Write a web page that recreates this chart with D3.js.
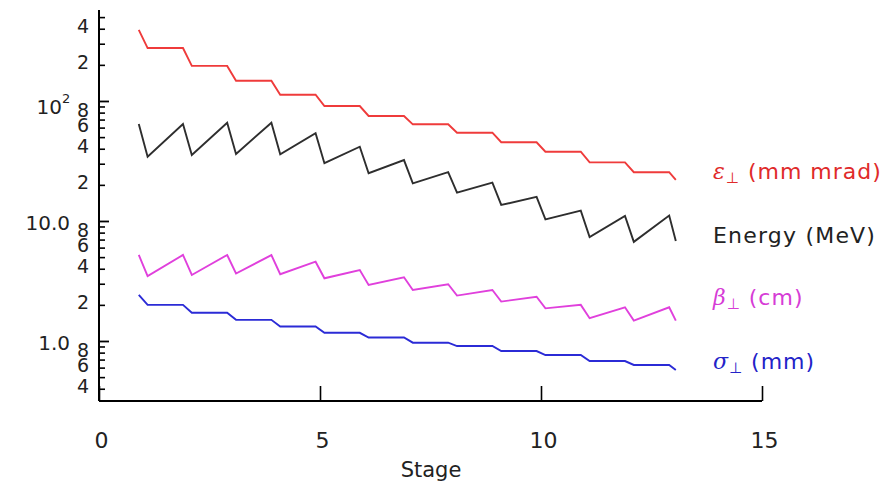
<!DOCTYPE html>
<html>
<head>
<meta charset="utf-8">
<script src="https://cdn.jsdelivr.net/npm/d3@7"></script>
<style>
  html, body { margin: 0; padding: 0; background: #fff; }
  svg text { font-family: "DejaVu Sans", sans-serif; }
</style>
</head>
<body>
<svg id="chart" width="891" height="488"></svg>
<script>
// ---- Data ----
const stages = [0.9, 1.1, 1.9, 2.1, 2.9, 3.1, 3.9, 4.1, 4.9, 5.1, 5.9, 6.1, 6.9,
                7.1, 7.9, 8.1, 8.9, 9.1, 9.9, 10.1, 10.9, 11.1, 11.9, 12.1, 12.9, 13.05];

const emittance = [391, 276, 276, 196, 196, 147.6, 147.6, 112.8, 112.8, 90.8, 90.8, 75, 75,
                   63.9, 63.9, 54.4, 54.4, 45.3, 45.3, 37.8, 37.8, 30.8, 30.8, 25.5, 25.5, 22.0];

const energy = [64.3, 34.3, 64.3, 35.5, 65.9, 36.2, 65.9, 36.0, 53.8, 30.3, 41.6, 25.0, 32.2,
                20.6, 25.5, 17.2, 20.9, 13.6, 15.9, 10.3, 12.2, 7.35, 11.0, 6.7, 11.1, 6.8];

const beta = [5.21, 3.48, 5.21, 3.55, 5.21, 3.65, 5.2, 3.6, 4.58, 3.33, 3.9, 2.93, 3.4,
              2.66, 2.97, 2.39, 2.66, 2.13, 2.34, 1.87, 2.0, 1.55, 1.91, 1.48, 1.91, 1.48];

const sigma = [2.42, 2.0, 2.0, 1.72, 1.72, 1.50, 1.50, 1.32, 1.32, 1.17, 1.17, 1.07, 1.07,
               0.968, 0.968, 0.908, 0.908, 0.825, 0.825, 0.764, 0.764, 0.681, 0.681, 0.631, 0.631, 0.573];

const seriesNames = ["emittance", "energy", "beta", "sigma"];

const xTicks = [0, 5, 10, 15];
const xTickLabels = ["0", "5", "10", "15"];

const yMajorTicks = [1, 10, 100];
const yMajorLabels = ["1.0", "10.0", "10"];   // 100 drawn as 10 with superscript 2
const yMinorTicks = [0.4, 0.5, 0.6, 0.7, 0.8, 0.9, 2, 3, 4, 5, 6, 7, 8, 9,
                     20, 30, 40, 50, 60, 70, 80, 90, 200, 300, 400, 500];
const yMinorLabeled = [0.4, 0.6, 0.8, 2, 4, 6, 8, 20, 40, 60, 80, 200, 400];
const yMinorLabels = ["4", "6", "8", "2", "4", "6", "8", "2", "4", "6", "8", "2", "4"];

// ---- Layout ----
const svg = d3.select("#chart");
const x = d3.scaleLinear().domain([0, 15]).range([99, 762]);
const y = d3.scaleLog().domain([0.3162, 573]).range([401, 10]);

const colors = { emittance: "#ef3b3b", energy: "#2e2e2e", beta: "#e040dc", sigma: "#2b2bd6" };
const dataBy = { emittance, energy, beta, sigma };

// Axes lines
svg.append("line").attr("x1", x(0)).attr("x2", x(0)).attr("y1", y.range()[1]).attr("y2", y.range()[0])
   .attr("stroke", "#000").attr("stroke-width", 2);
svg.append("line").attr("x1", x(0)).attr("x2", x(15)).attr("y1", y.range()[0]).attr("y2", y.range()[0])
   .attr("stroke", "#000").attr("stroke-width", 2);

// X ticks (inward)
const xAxis = d3.axisBottom(x).tickValues(xTicks).tickSize(-15).tickFormat((d, i) => xTickLabels[i]).tickPadding(31);
const gx = svg.append("g").attr("transform", `translate(0,${y.range()[0]})`).call(xAxis);
gx.select(".domain").remove();
gx.selectAll(".tick line").attr("stroke", "#000").attr("stroke-width", 1.6);
gx.selectAll(".tick text").attr("font-size", 22).attr("fill", "#222").attr("dx", 2);

// Y ticks (inward)
const yMajAxis = d3.axisRight(y).tickValues(yMajorTicks).tickSize(10).tickFormat("");
const gyM = svg.append("g").attr("transform", `translate(${x(0)},0)`).call(yMajAxis);
gyM.select(".domain").remove();
gyM.selectAll(".tick line").attr("stroke", "#000").attr("stroke-width", 1.8);

const yMinAxis = d3.axisRight(y).tickValues(yMinorTicks).tickSize(6).tickFormat("");
const gym = svg.append("g").attr("transform", `translate(${x(0)},0)`).call(yMinAxis);
gym.select(".domain").remove();
gym.selectAll(".tick line").attr("stroke", "#000").attr("stroke-width", 1.6);

// Y tick labels
svg.append("g").selectAll("text").data(yMinorLabeled).join("text")
   .attr("x", x(0) - 10).attr("y", d => y(d) - 3)
   .attr("text-anchor", "end").attr("dominant-baseline", "central")
   .attr("font-size", 19).attr("fill", "#222")
   .text((d, i) => yMinorLabels[i]);

const majG = svg.append("g");
yMajorTicks.forEach((v, i) => {
  majG.append("text")
    .attr("x", i === 2 ? 62 : 70).attr("y", y(v) + (i === 2 ? 6 : 2))
    .attr("text-anchor", "end").attr("dominant-baseline", "central")
    .attr("font-size", 20).attr("fill", "#222")
    .text(yMajorLabels[i]);
  if (i === 2) {
    majG.append("text").attr("x", 62).attr("y", y(v) - 2)
      .attr("font-size", 13).attr("fill", "#222").attr("dominant-baseline", "central").text("2");
  }
});

// X axis title
svg.append("text").attr("x", 431).attr("y", 477).attr("text-anchor", "middle")
   .attr("font-size", 21).attr("fill", "#222").text("Stage");

// Lines
const line = d3.line().x((d, i) => x(stages[i])).y(d => y(d));
seriesNames.forEach(name => {
  svg.append("path").datum(dataBy[name]).attr("d", line)
     .attr("fill", "none").attr("stroke", colors[name]).attr("stroke-width", 1.9)
     .attr("stroke-linejoin", "miter");
});

// Labels
const labelColors = { emittance: "#e02a2a", energy: "#222", beta: "#d63cd6", sigma: "#2323c8" };
const labelY = { emittance: 179, energy: 243, beta: 305, sigma: 369 };
const labelX = 713;
function symLabel(name, sym, rest) {
  const t = svg.append("text").attr("x", labelX).attr("y", labelY[name])
     .attr("font-size", 22).attr("fill", labelColors[name]).attr("letter-spacing", 1);
  t.append("tspan").attr("font-style", "italic").attr("font-family", "DejaVu Serif, serif").text(sym);
  t.append("tspan").attr("font-size", 15).attr("dy", 4).text("\u22A5");
  t.append("tspan").attr("dy", -4).text(" " + rest);
}
symLabel("emittance", "\u03B5", "(mm mrad)");
svg.append("text").attr("x", labelX).attr("y", labelY.energy).attr("font-size", 22)
   .attr("letter-spacing", 1.2).attr("fill", labelColors.energy).text("Energy (MeV)");
symLabel("beta", "\u03B2", "(cm)");
symLabel("sigma", "\u03C3", "(mm)");
</script>
</body>
</html>
